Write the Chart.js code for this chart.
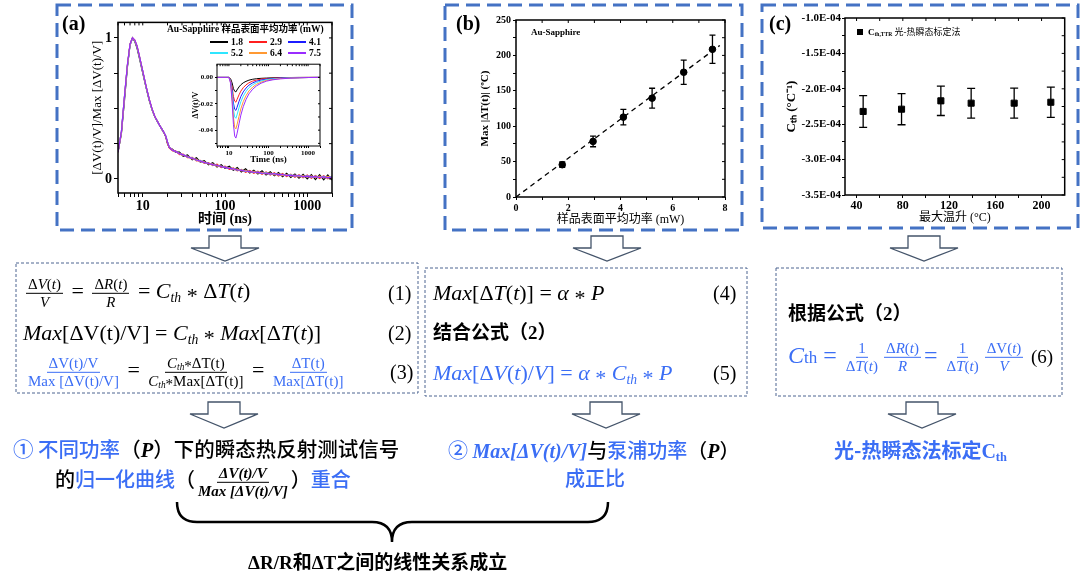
<!DOCTYPE html>
<html>
<head>
<meta charset="utf-8">
<script src="https://cdn.jsdelivr.net/npm/chart.js@4.4.1/dist/chart.umd.min.js"></script>
<style>
body{margin:0;background:#fff}
#wrap{position:relative;width:1080px;height:586px;overflow:hidden;background:#fff;color:#000;font-family:'Liberation Serif','Noto Sans CJK SC',serif}
canvas{position:absolute}
svg{position:absolute;left:0;top:0}
.t{position:absolute;white-space:nowrap;transform:translateY(-50%);line-height:1.15}
.m{font-family:'Liberation Serif','Noto Sans CJK SC',serif}
.cn{font-family:'Noto Sans CJK SC','Liberation Sans',sans-serif;font-weight:500}
.bd{font-weight:bold}
.blue{color:#3b6ef5}
sub{font-size:.62em;vertical-align:-.28em;line-height:0}
.ast{position:relative;top:.22em}
.fr{display:inline-flex;flex-direction:column;align-items:center;vertical-align:middle;line-height:1.08;margin:0 3px}
.fr>span:first-child{border-bottom:1px solid currentColor;padding:0 2px 1px}
.ser{font-family:'Liberation Serif',serif;font-weight:bold;font-style:italic}
.lg{position:absolute;height:0;border-top:2px solid;width:18px}
</style>
</head>
<body>
<div id="wrap">
<canvas id="ca" width="249" height="216" style="left:86px;top:12px"></canvas>
<canvas id="cin" width="140" height="112" style="left:183px;top:58px"></canvas>
<canvas id="cb" width="260" height="222" style="left:470px;top:8px"></canvas>
<canvas id="cc" width="295" height="222" style="left:775px;top:8px"></canvas>

<svg width="1080" height="586">
 <g fill="none" stroke="#4472C4" stroke-width="3" stroke-dasharray="14 7">
  <rect x="57" y="5" width="295" height="225"/>
  <rect x="445" y="5" width="297" height="225"/>
  <rect x="762" y="5" width="316" height="223"/>
 </g>
 <g fill="none" stroke="#4d6591" stroke-width="1" stroke-dasharray="3 2">
  <rect x="16" y="263" width="402" height="130"/>
  <rect x="425" y="268" width="322" height="128"/>
  <rect x="776" y="268" width="286" height="128"/>
 </g>
 <g fill="#fff" stroke="#44546A" stroke-width="1.3" id="arrows"></g>
 <path d="M177,502 Q177,522 197,522 L372,522 Q392,522 392,542 Q392,522 412,522 L588,522 Q608,522 608,502" fill="none" stroke="#000" stroke-width="2.5"/>
</svg>

<!-- panel labels -->
<div class="t m bd" style="left:62px;top:23px;font-size:20px">(a)</div>
<div class="t m bd" style="left:456px;top:23px;font-size:20px">(b)</div>
<div class="t m bd" style="left:769px;top:23px;font-size:20px">(c)</div>

<!-- legend (a) -->
<div class="t m bd" style="left:167px;top:29px;font-size:9.5px">Au-Sapphire 样品表面平均功率 (mW)</div>
<div id="legA"></div>

<div class="t m bd" style="left:531px;top:32px;font-size:9px">Au-Sapphire</div>

<!-- legend (c) -->
<div style="position:absolute;left:857px;top:29px;width:6px;height:6px;background:#000"></div>
<div class="t m" style="left:868px;top:32px;font-size:9px"><b>C<sub>th,TTR</sub></b> 光-热瞬态标定法</div>

<!-- box 1 -->
<div class="t m" style="left:23px;top:293px;font-size:22px"><span class="fr" style="font-size:15px"><span>Δ<i>V</i>(<i>t</i>)</span><span><i>V</i></span></span> = <span class="fr" style="font-size:15px"><span>Δ<i>R</i>(<i>t</i>)</span><span><i>R</i></span></span> = <i>C<sub>th</sub></i> <span class="ast">*</span> Δ<i>T</i>(<i>t</i>)</div>
<div class="t m" style="left:388px;top:293px;font-size:20px">(1)</div>
<div class="t m" style="left:23px;top:333px;font-size:22px"><i>Max</i>[ΔV(t)/V] = <i>C<sub>th</sub></i> <span class="ast">*</span> <i>Max</i>[Δ<i>T</i>(<i>t</i>)]</div>
<div class="t m" style="left:388px;top:333px;font-size:20px">(2)</div>
<div class="t m" style="left:25px;top:372px;font-size:22px"><span class="fr blue" style="font-size:15px"><span>ΔV(t)/V</span><span>Max [ΔV(t)/V]</span></span> = <span class="fr" style="font-size:15px"><span><i>C<sub>th</sub></i><span class="ast">*</span>ΔT(t)</span><span><i>C<sub>th</sub></i><span class="ast">*</span>Max[ΔT(t)]</span></span> = <span class="fr blue" style="font-size:15px"><span>ΔT(t)</span><span>Max[ΔT(t)]</span></span></div>
<div class="t m" style="left:390px;top:372px;font-size:20px">(3)</div>

<!-- box 2 -->
<div class="t m" style="left:433px;top:293px;font-size:22px"><i>Max</i>[Δ<i>T</i>(<i>t</i>)] = <i>α</i> <span class="ast">*</span> <i>P</i></div>
<div class="t m" style="left:713px;top:293px;font-size:20px">(4)</div>
<div class="t cn" style="left:433px;top:332px;font-size:19px;font-weight:bold">结合公式（<span class="m">2</span>）</div>
<div class="t m blue" style="left:433px;top:373px;font-size:22px"><i>Max</i>[Δ<i>V</i>(<i>t</i>)/<i>V</i>] = <i>α</i> <span class="ast">*</span> <i>C<sub>th</sub></i> <span class="ast">*</span> <i>P</i></div>
<div class="t m" style="left:713px;top:373px;font-size:20px">(5)</div>

<!-- box 3 -->
<div class="t cn" style="left:788px;top:313px;font-size:19px;font-weight:bold">根据公式（<span class="m">2</span>）</div>
<div class="t m blue" style="left:788px;top:357px;font-size:24px"><i>C</i><span style="font-size:17px">th</span> = <span class="fr" style="font-size:15px"><span>1</span><span>Δ<i>T</i>(<i>t</i>)</span></span><span class="fr" style="font-size:15px"><span>Δ<i>R</i>(<i>t</i>)</span><span><i>R</i></span></span>= <span class="fr" style="font-size:15px"><span>1</span><span>Δ<i>T</i>(<i>t</i>)</span></span><span class="fr" style="font-size:15px"><span>ΔV(<i>t</i>)</span><span><i>V</i></span></span></div>
<div class="t m" style="left:1031px;top:357px;font-size:19px">(6)</div>

<!-- conclusions -->
<div class="t cn" style="left:13px;top:450px;font-size:20.5px"><span class="blue">① 不同功率</span>（<span class="ser">P</span>）下的瞬态热反射测试信号</div>
<div class="t cn" style="left:55px;top:482px;font-size:20px">的<span class="blue">归一化曲线</span>（<span class="fr ser" style="font-size:15px"><span>ΔV(t)/V</span><span>Max [ΔV(t)/V]</span></span>）<span class="blue">重合</span></div>
<div class="t cn" style="left:448px;top:450px;font-size:20px"><span class="blue">② <span class="ser">Max[ΔV(t)/V]</span></span>与<span class="blue">泵浦功率</span>（<span class="ser">P</span>）</div>
<div class="t cn blue" style="left:565px;top:477px;font-size:20px">成正比</div>
<div class="t cn blue" style="left:834px;top:450px;font-size:20px;font-weight:bold">光-热瞬态法标定<span class="m">C<sub>th</sub></span></div>
<div class="t cn" style="left:248px;top:562px;font-size:19px;font-weight:bold"><span class="m">ΔR/R</span>和<span class="m">ΔT</span>之间的线性关系成立</div>
</div>

<script>
// ---- panel (a): normalised transient signals, one curve per power ----
const tA = [5,5.5,6,6.5,7,7.5,8,8.5,9,10,11,12,13,14,15,16,17,18,19,20,21,23,25,28,31,35,40,45,50,56,63,71,80,90,100,113,126,141,158,178,200,224,251,282,316,355,398,447,501,562,631,708,794,891,1000,1122,1259,1413,1585,1778,1995];
const powers = ['1.8', '2.9', '4.1', '5.2', '6.4', '7.5'];
const lineColors = ['#000000', '#ff1f1f', '#1c1cff', '#2fe6ff', '#ff9933', '#9a2cff'];

const normP18 = [0.19,0.32,0.56,0.79,0.95,1.00,0.975,0.93,0.87,0.75,0.645,0.555,0.49,0.44,0.41,0.38,0.355,0.33,0.30,0.25,0.222,
  0.21,0.19,0.19,0.16,0.17,0.135,0.15,0.12,0.13,0.10,0.115,0.085,0.10,0.075,0.09,0.062,0.08,0.05,0.072,0.042,0.062,0.035,0.058,0.028,0.05,0.022,0.045,0.015,0.04,0.01,0.035,0.005,0.032,0.0,0.03,-0.005,0.03,-0.007,0.028,-0.008];
const normP29 = [0.19,0.33,0.585,0.805,0.955,1.00,0.985,0.945,0.885,0.765,0.655,0.565,0.495,0.445,0.41,0.38,0.355,0.33,0.30,0.25,0.22,
  0.198,0.2,0.172,0.176,0.15,0.152,0.128,0.132,0.11,0.116,0.094,0.104,0.08,0.09,0.068,0.078,0.058,0.068,0.047,0.06,0.04,0.055,0.033,0.05,0.027,0.043,0.02,0.038,0.016,0.034,0.012,0.03,0.008,0.027,0.005,0.024,0.003,0.022,0.001,0.02];
const normP41 = [0.19,0.335,0.585,0.80,0.95,1.00,0.98,0.94,0.88,0.76,0.65,0.56,0.49,0.44,0.41,0.38,0.355,0.33,0.305,0.26,0.225,
  0.205,0.193,0.182,0.168,0.16,0.144,0.137,0.124,0.12,0.108,0.104,0.093,0.09,0.08,0.078,0.068,0.066,0.058,0.057,0.049,0.05,0.042,0.045,0.036,0.04,0.03,0.035,0.025,0.03,0.02,0.026,0.016,0.022,0.013,0.019,0.01,0.017,0.008,0.015,0.006];
const normP52 = [0.19,0.33,0.58,0.80,0.95,1.00,0.98,0.94,0.88,0.76,0.65,0.56,0.49,0.44,0.41,0.38,0.355,0.33,0.305,0.262,0.226,
  0.203,0.196,0.178,0.171,0.156,0.147,0.133,0.128,0.116,0.111,0.1,0.097,0.086,0.084,0.074,0.073,0.064,0.063,0.054,0.054,0.046,0.048,0.04,0.042,0.033,0.037,0.028,0.032,0.023,0.028,0.019,0.025,0.015,0.022,0.012,0.02,0.01,0.018,0.008,0.016];
const normP64 = [0.19,0.33,0.58,0.80,0.95,1.00,0.98,0.94,0.88,0.76,0.65,0.56,0.49,0.44,0.41,0.38,0.355,0.33,0.305,0.26,0.224,
  0.207,0.192,0.181,0.166,0.161,0.142,0.138,0.122,0.121,0.106,0.105,0.091,0.091,0.079,0.079,0.067,0.069,0.057,0.06,0.048,0.053,0.041,0.047,0.035,0.041,0.029,0.036,0.024,0.031,0.019,0.027,0.015,0.024,0.012,0.021,0.009,0.019,0.007,0.017,0.005];
const normP75 = [0.19,0.335,0.59,0.81,0.955,1.00,0.985,0.945,0.885,0.765,0.655,0.565,0.495,0.445,0.41,0.38,0.356,0.332,0.306,0.262,0.224,
  0.204,0.195,0.179,0.17,0.157,0.146,0.134,0.126,0.117,0.109,0.101,0.095,0.087,0.082,0.075,0.071,0.065,0.061,0.056,0.052,0.048,0.046,0.041,0.04,0.035,0.035,0.03,0.03,0.025,0.026,0.021,0.022,0.017,0.019,0.014,0.016,0.011,0.014,0.009,0.011];
const normCurves = [normP18, normP29, normP41, normP52, normP64, normP75];

const aXTicks = [5,6,7,8,9,10,20,30,40,50,60,70,80,90,100,200,300,400,500,600,700,800,900,1000,2000];
const aXLabels = [10, 100, 1000];
const aYTicks = [0, 0.25, 0.5, 0.75, 1];
const aYLabels = [0, 1];

// ---- inset: raw dV/V ----
const tIn = [5,8,10,11,12,13,14,15,16,18,20,23,27,32,40,50,65,90,130,200,350,600,1000,2000];
const dvP18 = [0,0,0,-0.001,-0.004,-0.0085,-0.0105,-0.011,-0.0095,-0.0072,-0.0056,-0.0041,-0.003,-0.0021,-0.0014,-0.001,-0.0007,-0.0005,-0.0003,-0.0002,-0.0001,0,0,0];
const dvP29 = [0,0,0,-0.0018,-0.007,-0.0145,-0.018,-0.0188,-0.0168,-0.0132,-0.0104,-0.0078,-0.0057,-0.0041,-0.0028,-0.002,-0.0013,-0.0009,-0.0006,-0.0003,-0.0002,-0.0001,0,0];
const dvP41 = [0,0,0,-0.0024,-0.0095,-0.0195,-0.0242,-0.025,-0.0228,-0.0182,-0.0145,-0.011,-0.0081,-0.0059,-0.0041,-0.0029,-0.002,-0.0013,-0.0008,-0.0005,-0.0003,-0.0002,-0.0001,0];
const dvP52 = [0,0,0,-0.003,-0.012,-0.024,-0.030,-0.031,-0.0285,-0.023,-0.0185,-0.0142,-0.0106,-0.0078,-0.0055,-0.0039,-0.0027,-0.0017,-0.0011,-0.0007,-0.0004,-0.0002,-0.0001,0];
const dvP64 = [0,0,0,-0.0037,-0.015,-0.030,-0.0378,-0.039,-0.036,-0.0295,-0.0238,-0.0184,-0.0139,-0.0103,-0.0073,-0.0052,-0.0036,-0.0023,-0.0015,-0.0009,-0.0005,-0.0003,-0.0001,0];
const dvP75 = [0,0,0,-0.0044,-0.018,-0.0355,-0.0445,-0.046,-0.0428,-0.0352,-0.0286,-0.0222,-0.0168,-0.0125,-0.0089,-0.0064,-0.0044,-0.0028,-0.0018,-0.0011,-0.0006,-0.0003,-0.0001,0];
const dvCurves = [dvP18, dvP29, dvP41, dvP52, dvP64, dvP75];
const inYTicks = [-0.05, -0.04, -0.03, -0.02, -0.01, 0];
const inYLabels = [0, -0.02, -0.04];

// ---- panel (b): max temperature rise vs power ----
const bPower = [1.77, 2.95, 4.11, 5.21, 6.42, 7.52];
const bMaxDT = [45.6, 78.5, 112.8, 139.6, 176.2, 208.6];
const bErr = [3.8, 7.5, 11, 14, 17, 20];
const bFitX = [0, 7.8];
const bFitY = [0, 214];
const bXTicks = [0, 1, 2, 3, 4, 5, 6, 7, 8];
const bXLabels = ['0', '', '2', '', '4', '', '6', '', '8'];
const bYTicks = [0, 25, 50, 75, 100, 125, 150, 175, 200, 225, 250];
const bYLabels = ['0', '', '50', '', '100', '', '150', '', '200', '', '250'];

// ---- panel (c): Cth vs max temperature rise ----
const cRise = [45.7, 78.9, 112.9, 139.1, 176.3, 208];
const cCth = [-2.32e-4, -2.288e-4, -2.17e-4, -2.203e-4, -2.203e-4, -2.19e-4];
const cErr = [0.224e-4, 0.22e-4, 0.207e-4, 0.21e-4, 0.212e-4, 0.215e-4];
const cXTicks = [40, 60, 80, 100, 120, 140, 160, 180, 200];
const cXLabels = ['40', '', '80', '', '120', '', '160', '', '200'];
const cYTicks = [-3.5e-4, -3.25e-4, -3.0e-4, -2.75e-4, -2.5e-4, -2.25e-4, -2.0e-4, -1.75e-4, -1.5e-4, -1.25e-4, -1.0e-4];
const cYLabels = ['-3.5E-04', '', '-3.0E-04', '', '-2.5E-04', '', '-2.0E-04', '', '-1.5E-04', '', '-1.0E-04'];

Chart.defaults.font.family = "'Liberation Serif', 'Noto Sans CJK SC', serif";
Chart.defaults.color = '#000';

// box round the plot plus short inward ticks on top/right
const frame = {
  id: 'frame',
  beforeDraw(chart, args, opts) {
    if (!opts.fill) return;
    const a = chart.chartArea;
    chart.ctx.save();
    chart.ctx.fillStyle = '#fff';
    chart.ctx.fillRect(a.left, a.top, a.width, a.height);
    chart.ctx.restore();
  },
  afterDraw(chart, args, opts) {
    const { ctx, chartArea: a, scales: { x, y } } = chart;
    const L = opts.tick || 3;
    ctx.save();
    ctx.strokeStyle = '#000';
    ctx.lineWidth = opts.width || 1.5;
    ctx.strokeRect(a.left, a.top, a.width, a.height);
    ctx.lineWidth = 1;
    ctx.beginPath();
    x.ticks.forEach(t => { const p = x.getPixelForValue(t.value); ctx.moveTo(p, a.top); ctx.lineTo(p, a.top + L); });
    y.ticks.forEach(t => { const p = y.getPixelForValue(t.value); ctx.moveTo(a.right, p); ctx.lineTo(a.right - L, p); });
    ctx.stroke();
    ctx.restore();
  }
};

// vertical error bars for datasets that carry an "errors" array
const errorBars = {
  id: 'errorBars',
  beforeDatasetsDraw(chart, args, opts) {
    const { ctx, scales: { x, y } } = chart;
    const cap = opts.cap || 3;
    ctx.save();
    ctx.strokeStyle = '#000';
    ctx.lineWidth = 1.3;
    chart.data.datasets.forEach(ds => {
      if (!ds.errors) return;
      ds.data.forEach((p, j) => {
        const px = x.getPixelForValue(p.x);
        const top = y.getPixelForValue(p.y + ds.errors[j]);
        const bot = y.getPixelForValue(p.y - ds.errors[j]);
        ctx.beginPath();
        ctx.moveTo(px, top); ctx.lineTo(px, bot);
        ctx.moveTo(px - cap, top); ctx.lineTo(px + cap, top);
        ctx.moveTo(px - cap, bot); ctx.lineTo(px + cap, bot);
        ctx.stroke();
      });
    });
    ctx.restore();
  }
};

function axisBase(size, tickLen, pad) {
  return {
    grid: { drawOnChartArea: false, tickLength: tickLen, tickColor: '#000', tickWidth: 1 },
    border: { display: false },
    ticks: { autoSkip: false, maxRotation: 0, padding: pad, font: { size: size, weight: 'bold' } }
  };
}
function fixedTicks(list) {
  return s => { s.ticks = list.map(v => ({ value: v })); };
}

const common = {
  type: 'scatter',
  plugins: [frame, errorBars]
};
const baseOpts = {
  responsive: false,
  animation: false,
  events: []
};

// main (a)
const xa = axisBase(14, 4, 1);
const ya = axisBase(14, 4, 2);
new Chart(document.getElementById('ca'), {
  ...common,
  data: {
    datasets: normCurves.map((vals, i) => ({
      label: powers[i],
      data: vals.map((v, j) => ({ x: tA[j], y: v })),
      showLine: true,
      borderColor: lineColors[i],
      borderWidth: 1.2,
      pointRadius: 0,
      order: 6 - i
    }))
  },
  options: {
    ...baseOpts,
    layout: { padding: { top: 5, right: 3 } },
    plugins: { legend: { display: false }, tooltip: { enabled: false }, frame: { width: 1.5, tick: 3 } },
    scales: {
      x: {
        ...xa, type: 'logarithmic', min: 5, max: 2000,
        afterBuildTicks: fixedTicks(aXTicks),
        afterFit: s => { s.height = 35; },
        ticks: { ...xa.ticks, callback: v => aXLabels.includes(v) ? String(v) : '' },
        title: { display: true, text: '时间 (ns)', font: { size: 14, weight: 'bold' }, padding: { top: 0, bottom: 0 } }
      },
      y: {
        ...ya, min: -0.1, max: 1.11,
        afterBuildTicks: fixedTicks(aYTicks),
        afterFit: s => { s.width = 32; },
        ticks: { ...ya.ticks, callback: v => aYLabels.includes(v) ? String(v) : '' },
        title: { display: true, text: '[ΔV(t)/V]/Max [ΔV(t)/V]', font: { size: 13 }, padding: { top: 4, bottom: 0 } }
      }
    }
  }
});

// inset
const xi = axisBase(7, 2, 1);
const yi = axisBase(7, 2, 2);
new Chart(document.getElementById('cin'), {
  ...common,
  data: {
    datasets: dvCurves.map((vals, i) => ({
      label: powers[i],
      data: vals.map((v, j) => ({ x: tIn[j], y: v })),
      showLine: true,
      borderColor: lineColors[i],
      borderWidth: 1,
      pointRadius: 0,
      order: 6 - i
    }))
  },
  options: {
    ...baseOpts,
    layout: { padding: { top: 5, right: 3 } },
    plugins: { legend: { display: false }, tooltip: { enabled: false }, frame: { width: 1, tick: 2, fill: true } },
    scales: {
      x: {
        ...xi, type: 'logarithmic', min: 5, max: 2000,
        afterBuildTicks: fixedTicks(aXTicks),
        afterFit: s => { s.height = 24; },
        ticks: { ...xi.ticks, callback: v => aXLabels.includes(v) ? String(v) : '' },
        title: { display: true, text: 'Time (ns)', font: { size: 9, weight: 'bold' }, padding: { top: 0, bottom: 4.6 } }
      },
      y: {
        ...yi, min: -0.052, max: 0.01,
        afterBuildTicks: fixedTicks(inYTicks),
        afterFit: s => { s.width = 34; },
        ticks: { ...yi.ticks, callback: v => inYLabels.includes(v) ? v.toFixed(2) : '' },
        title: { display: true, text: 'ΔV(t)/V', font: { size: 8, weight: 'bold' }, padding: { top: 8.5, bottom: 0 } }
      }
    }
  }
});

// legend (a), three entries per row
const legA = document.getElementById('legA');
const legX = [210, 249, 288];
const legY = [42, 53];
powers.forEach((p, i) => {
  const lx = legX[i % 3], ly = legY[Math.floor(i / 3)];
  legA.insertAdjacentHTML('beforeend',
    `<div class="lg" style="left:${lx}px;top:${ly - 1}px;border-color:${lineColors[i]}"></div>` +
    `<div class="t m bd" style="left:${lx + 21}px;top:${ly}px;font-size:9.5px">${p}</div>`);
});

// (b)
const xb = axisBase(10, 3, 2);
const yb = axisBase(10, 3, 2);
new Chart(document.getElementById('cb'), {
  ...common,
  data: {
    datasets: [
      {
        label: 'points',
        data: bPower.map((v, i) => ({ x: v, y: bMaxDT[i] })),
        errors: bErr,
        pointStyle: 'circle',
        pointRadius: 3.3,
        backgroundColor: '#000',
        borderColor: '#000'
      },
      {
        label: 'fit',
        data: bFitX.map((v, i) => ({ x: v, y: bFitY[i] })),
        showLine: true,
        borderColor: '#000',
        borderWidth: 1.3,
        borderDash: [5, 4],
        pointRadius: 0
      }
    ]
  },
  options: {
    ...baseOpts,
    layout: { padding: { top: 12, right: 5 } },
    plugins: { legend: { display: false }, tooltip: { enabled: false }, frame: { width: 1.5, tick: 3 }, errorBars: { cap: 3 } },
    scales: {
      x: {
        ...xb, min: 0, max: 8,
        afterBuildTicks: fixedTicks(bXTicks),
        afterFit: s => { s.height = 33; },
        ticks: { ...xb.ticks, callback: (v, i) => bXLabels[i] },
        title: { display: true, text: '样品表面平均功率 (mW)', font: { size: 12 }, padding: { top: 0, bottom: 3 } }
      },
      y: {
        ...yb, min: 0, max: 250,
        afterBuildTicks: fixedTicks(bYTicks),
        afterFit: s => { s.width = 46; },
        ticks: { ...yb.ticks, callback: (v, i) => bYLabels[i] },
        title: { display: true, text: 'Max |ΔT(t)| (ºC)', font: { size: 11, weight: 'bold' }, padding: { top: 8.4, bottom: 0 } }
      }
    }
  }
});

// (c)
const xc = axisBase(12, 3, 1);
const yc = axisBase(11, 3, 1);
new Chart(document.getElementById('cc'), {
  ...common,
  data: {
    datasets: [{
      label: 'Cth,TTR 光-热瞬态标定法',
      data: cRise.map((v, i) => ({ x: v, y: cCth[i] })),
      errors: cErr,
      pointStyle: 'rect',
      pointRadius: 4.3,
      backgroundColor: '#000',
      borderColor: '#000'
    }]
  },
  options: {
    ...baseOpts,
    layout: { padding: { top: 10, right: 4 } },
    plugins: { legend: { display: false }, tooltip: { enabled: false }, frame: { width: 1.5, tick: 3 }, errorBars: { cap: 4 } },
    scales: {
      x: {
        ...xc, min: 30, max: 220,
        afterBuildTicks: fixedTicks(cXTicks),
        afterFit: s => { s.height = 35; },
        ticks: { ...xc.ticks, callback: (v, i) => cXLabels[i] },
        title: { display: true, text: '最大温升 (°C)', font: { size: 12 }, padding: { top: 0, bottom: 4.8 } }
      },
      y: {
        ...yc, min: -3.5e-4, max: -1.0e-4,
        afterBuildTicks: fixedTicks(cYTicks),
        afterFit: s => { s.width = 70; },
        ticks: { ...yc.ticks, callback: (v, i) => cYLabels[i] },
        title: { display: true, text: 'Cₜₕ (°C⁻¹)', font: { size: 13, weight: 'bold' }, padding: { top: 9.2, bottom: 0 } }
      }
    }
  }
});

// hollow down arrows between the rows
const arrowSpots = [
  [225, 236, 248, 261], [607, 236, 248, 261], [924, 236, 248, 261],
  [224, 402, 414, 428], [606, 402, 414, 428], [922, 402, 414, 428]
];
const g = document.getElementById('arrows');
arrowSpots.forEach(([cx, y0, y1, y2]) => {
  const sw = 16, hw = 34;
  const d = `M${cx - sw},${y0} L${cx + sw},${y0} L${cx + sw},${y1} L${cx + hw},${y1} L${cx},${y2} L${cx - hw},${y1} L${cx - sw},${y1} Z`;
  const p = document.createElementNS('http://www.w3.org/2000/svg', 'path');
  p.setAttribute('d', d);
  g.appendChild(p);
});
</script>
</body>
</html>
